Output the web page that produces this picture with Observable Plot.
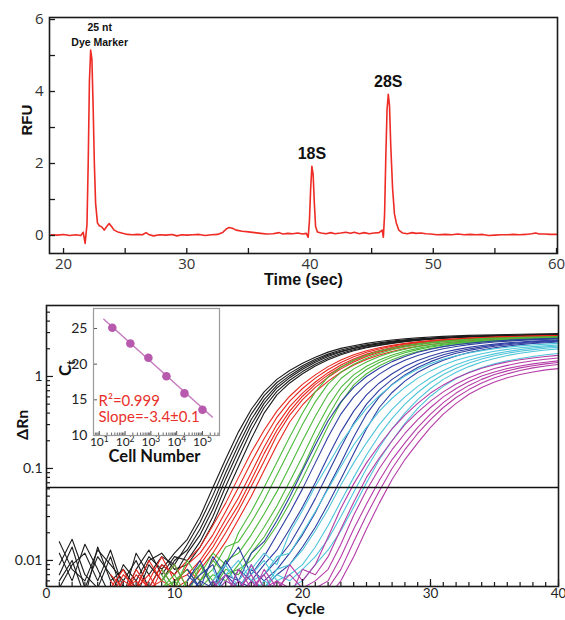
<!DOCTYPE html>
<html><head><meta charset="utf-8">
<script src="https://cdn.jsdelivr.net/npm/d3@7"></script>
<script src="https://cdn.jsdelivr.net/npm/@observablehq/plot@0.6"></script>
<style>
body{margin:0;background:#fff;}
#wrap{position:relative;width:565px;height:620px;overflow:hidden;}
#top{position:absolute;left:0;top:0;}
#bottom{position:absolute;left:0;top:292px;}
#inset{position:absolute;left:55px;top:300px;}
</style></head><body>
<div id="wrap"><div id="top"></div><div id="bottom"></div><div id="inset"></div></div>
<script>
// ---------- Top panel: electropherogram ----------
const rfuTime = [
 19.0,19.5,20.0,20.5,21.0,21.4,21.6,21.75,21.9,22.0,
 22.1,22.2,22.3,22.4,22.5,22.6,22.75,22.9,23.1,23.3,
 23.5,23.7,23.9,24.1,24.4,24.8,25.2,25.6,26.0,26.4,
 26.7,26.9,27.3,27.8,28.3,28.8,29.2,29.6,30.0,30.5,
 31.0,31.5,32.0,32.5,32.9,33.2,33.4,33.7,34.0,34.5,
 35.0,35.5,36.0,36.5,37.0,37.5,37.8,38.2,38.6,39.0,
 39.4,39.7,39.85,39.95,40.05,40.15,40.25,40.35,40.45,40.6,
 40.9,41.3,41.7,42.0,42.5,42.9,43.3,43.6,44.0,44.4,
 44.8,45.2,45.6,45.85,45.95,46.05,46.15,46.25,46.35,46.45,
 46.55,46.7,46.85,47.0,47.2,47.5,47.9,48.3,48.6,49.0,
 49.4,49.8,50.3,51.0,51.5,52.0,52.5,53.0,53.5,54.0,
 54.5,55.0,55.5,56.0,56.5,57.0,57.5,58.0,58.3,58.6,
 59.0,59.5,60.0];
const rfuValue = [
 0.02,0.01,0.03,0.0,0.02,0.0,0.09,-0.22,0.3,2.0,
 4.3,5.15,4.9,3.6,2.0,0.9,0.35,0.27,0.24,0.15,
 0.25,0.33,0.25,0.15,0.1,0.06,0.03,0.02,0.03,0.02,
 0.08,0.03,-0.01,0.02,0.01,0.03,-0.01,0.02,0.01,0.02,
 0.03,0.0,0.02,0.03,0.08,0.18,0.22,0.2,0.15,0.12,
 0.1,0.08,0.06,0.04,0.05,0.08,0.04,0.06,0.05,0.07,
 0.04,0.06,-0.05,0.4,1.3,1.92,1.7,0.9,0.25,0.1,
 0.07,0.05,0.08,0.05,0.07,0.09,0.06,0.09,0.05,0.08,
 0.05,0.07,0.08,0.15,-0.05,0.6,2.2,3.5,3.92,3.6,
 2.5,1.3,0.6,0.35,0.15,0.07,0.05,0.08,0.06,0.07,
 0.05,0.04,0.02,0.03,0.02,0.04,0.02,0.03,0.02,0.03,
 0.0,0.01,0.02,0.02,0.03,0.02,0.03,0.05,0.07,0.04,
 0.04,0.03,0.03];
const peakLabels = ["25 nt\nDye Marker", "18S", "28S"];
const peakTimes = [22.2, 40.15, 46.35];
const peakHeights = [5.15, 1.92, 3.92];
const timeTickValues = [20,25,30,35,40,45,50,55,60];
const timeTickLabels = [20,30,40,50,60];
const rfuTickValues = [0,1,2,3,4,5,6];
const rfuTickLabels = [0,2,4,6];

// ---------- Bottom panel: amplification curves ----------
const groupColors = ["#1c1c1c","#e8261d","#4db93b","#2e3ea2","#4ec5da","#b53ca7"];
const groupStart = [1,5,9,11,13,13];
const blackCurves = [
 [0.012,0.006,0.015,0.008,0.004,0.009,0.006,0.011,0.008,0.012,0.017,0.030,0.062,0.127,0.25,0.44,0.68,0.93,1.16,1.39,1.62,1.84,2.02,2.16,2.29,2.40,2.49,2.57,2.63,2.69,2.73,2.77,2.80,2.82,2.84,2.86,2.88,2.90,2.91,2.92],
 [0.007,0.014,0.005,0.011,0.007,0.004,0.012,0.007,0.011,0.009,0.015,0.026,0.051,0.107,0.21,0.39,0.62,0.86,1.08,1.31,1.54,1.75,1.94,2.09,2.21,2.32,2.42,2.50,2.56,2.62,2.67,2.71,2.74,2.76,2.78,2.80,2.82,2.84,2.85,2.86],
 [0.005,0.009,0.012,0.006,0.013,0.005,0.004,0.009,0.006,0.010,0.013,0.022,0.042,0.09,0.18,0.34,0.56,0.80,1.02,1.25,1.48,1.70,1.88,2.03,2.16,2.27,2.37,2.45,2.52,2.58,2.63,2.67,2.70,2.73,2.75,2.77,2.79,2.81,2.82,2.83],
 [0.016,0.008,0.006,0.013,0.009,0.006,0.010,0.005,0.009,0.007,0.012,0.019,0.036,0.077,0.155,0.30,0.51,0.75,0.97,1.20,1.43,1.65,1.85,2.01,2.15,2.27,2.37,2.46,2.53,2.59,2.64,2.68,2.72,2.75,2.77,2.79,2.81,2.83,2.84,2.85],
 [0.009,0.017,0.007,0.005,0.011,0.004,0.008,0.013,0.007,0.011,0.010,0.016,0.030,0.064,0.13,0.26,0.46,0.69,0.91,1.13,1.36,1.58,1.78,1.95,2.09,2.21,2.32,2.41,2.49,2.55,2.61,2.65,2.69,2.72,2.75,2.77,2.79,2.81,2.83,2.84],
 [0.006,0.010,0.004,0.014,0.006,0.008,0.005,0.010,0.012,0.008,0.009,0.014,0.025,0.052,0.105,0.21,0.40,0.63,0.85,1.07,1.30,1.52,1.72,1.90,2.05,2.18,2.29,2.39,2.47,2.54,2.60,2.65,2.69,2.72,2.75,2.77,2.79,2.81,2.83,2.84]
];
const redCurves = [
 [0.006,0.004,0.008,0.005,0.009,0.007,0.010,0.014,0.024,0.042,0.08,0.15,0.26,0.42,0.61,0.82,1.04,1.28,1.51,1.72,1.90,2.05,2.18,2.29,2.38,2.46,2.52,2.57,2.62,2.65,2.68,2.71,2.73,2.75,2.77,2.78],
 [0.004,0.007,0.005,0.010,0.006,0.005,0.009,0.012,0.019,0.034,0.062,0.117,0.21,0.36,0.54,0.74,0.96,1.19,1.42,1.64,1.83,1.99,2.13,2.25,2.35,2.43,2.50,2.55,2.60,2.64,2.67,2.70,2.72,2.74,2.76,2.77],
 [0.005,0.008,0.004,0.006,0.011,0.006,0.007,0.010,0.016,0.028,0.048,0.09,0.17,0.30,0.47,0.66,0.87,1.10,1.33,1.55,1.75,1.92,2.07,2.19,2.30,2.39,2.46,2.52,2.57,2.61,2.65,2.68,2.71,2.73,2.75,2.77],
 [0.007,0.005,0.006,0.004,0.008,0.005,0.006,0.009,0.014,0.024,0.040,0.075,0.145,0.26,0.42,0.61,0.82,1.04,1.27,1.49,1.70,1.88,2.03,2.16,2.27,2.36,2.44,2.50,2.55,2.59,2.63,2.66,2.69,2.71,2.73,2.75],
 [0.005,0.004,0.007,0.005,0.006,0.009,0.005,0.008,0.012,0.020,0.035,0.064,0.12,0.23,0.38,0.56,0.76,0.98,1.21,1.44,1.65,1.83,1.99,2.13,2.24,2.34,2.42,2.48,2.53,2.58,2.62,2.65,2.68,2.70,2.72,2.74],
 [0.004,0.006,0.005,0.007,0.004,0.006,0.008,0.006,0.010,0.016,0.028,0.050,0.095,0.18,0.32,0.49,0.68,0.89,1.11,1.33,1.53,1.71,1.87,2.01,2.13,2.23,2.31,2.38,2.44,2.49,2.53,2.56,2.59,2.62,2.64,2.66]
];
const greenCurves = [
 [0.006,0.009,0.005,0.007,0.012,0.009,0.020,0.034,0.062,0.117,0.22,0.40,0.68,0.99,1.26,1.50,1.71,1.89,2.04,2.17,2.27,2.36,2.43,2.49,2.54,2.58,2.61,2.64,2.66,2.68,2.70,2.71],
 [0.008,0.005,0.010,0.006,0.008,0.014,0.016,0.026,0.045,0.085,0.16,0.30,0.53,0.83,1.11,1.36,1.58,1.78,1.95,2.09,2.20,2.30,2.38,2.44,2.49,2.54,2.57,2.60,2.62,2.64,2.66,2.67],
 [0.005,0.007,0.004,0.009,0.006,0.010,0.012,0.019,0.032,0.056,0.105,0.20,0.37,0.64,0.95,1.21,1.44,1.65,1.83,1.98,2.11,2.21,2.30,2.37,2.43,2.47,2.51,2.54,2.57,2.59,2.61,2.62],
 [0.004,0.006,0.008,0.005,0.007,0.006,0.009,0.014,0.023,0.039,0.072,0.135,0.26,0.47,0.76,1.04,1.29,1.51,1.71,1.88,2.02,2.14,2.24,2.32,2.38,2.43,2.48,2.51,2.54,2.57,2.59,2.61],
 [0.007,0.004,0.006,0.009,0.005,0.008,0.007,0.012,0.018,0.031,0.055,0.10,0.20,0.37,0.64,0.93,1.19,1.42,1.63,1.81,1.96,2.09,2.19,2.28,2.35,2.41,2.45,2.49,2.52,2.55,2.57,2.59],
 [0.005,0.006,0.004,0.006,0.010,0.007,0.008,0.010,0.015,0.024,0.042,0.078,0.15,0.29,0.52,0.81,1.07,1.31,1.52,1.71,1.87,2.01,2.12,2.22,2.30,2.36,2.41,2.45,2.49,2.52,2.54,2.56]
];
const blueCurves = [
 [0.008,0.005,0.011,0.007,0.006,0.012,0.016,0.027,0.049,0.095,0.18,0.33,0.53,0.76,1.00,1.23,1.45,1.65,1.83,1.98,2.11,2.21,2.30,2.37,2.43,2.48,2.52,2.55,2.58,2.60],
 [0.006,0.010,0.005,0.009,0.014,0.007,0.011,0.019,0.033,0.060,0.115,0.22,0.39,0.60,0.83,1.06,1.29,1.50,1.69,1.86,2.00,2.12,2.22,2.30,2.37,2.42,2.47,2.51,2.54,2.57],
 [0.005,0.007,0.009,0.004,0.008,0.006,0.009,0.013,0.022,0.038,0.070,0.135,0.25,0.42,0.63,0.85,1.07,1.29,1.49,1.67,1.83,1.96,2.07,2.17,2.25,2.32,2.37,2.42,2.46,2.49],
 [0.004,0.006,0.005,0.010,0.006,0.005,0.007,0.010,0.015,0.026,0.047,0.089,0.17,0.31,0.50,0.71,0.93,1.15,1.36,1.55,1.72,1.87,1.99,2.10,2.19,2.27,2.33,2.38,2.42,2.46],
 [0.007,0.005,0.004,0.007,0.005,0.008,0.006,0.008,0.012,0.019,0.033,0.062,0.115,0.22,0.39,0.60,0.82,1.04,1.25,1.45,1.63,1.79,1.92,2.03,2.13,2.21,2.28,2.33,2.38,2.42],
 [0.005,0.004,0.006,0.005,0.004,0.006,0.005,0.007,0.009,0.014,0.023,0.041,0.077,0.145,0.27,0.46,0.67,0.89,1.11,1.31,1.50,1.67,1.82,1.94,2.05,2.14,2.22,2.28,2.33,2.37]
];
const cyanCurves = [
 [0.006,0.009,0.005,0.008,0.012,0.009,0.020,0.035,0.064,0.11,0.19,0.30,0.45,0.62,0.81,1.01,1.20,1.38,1.54,1.68,1.80,1.91,2.00,2.08,2.15,2.20,2.25,2.29],
 [0.005,0.007,0.010,0.006,0.007,0.011,0.012,0.020,0.034,0.060,0.105,0.18,0.28,0.42,0.58,0.76,0.96,1.15,1.33,1.50,1.64,1.77,1.88,1.97,2.05,2.11,2.16,2.20],
 [0.008,0.004,0.006,0.009,0.005,0.008,0.009,0.013,0.021,0.036,0.066,0.115,0.19,0.30,0.44,0.60,0.78,0.97,1.16,1.34,1.50,1.64,1.76,1.87,1.96,2.04,2.10,2.15],
 [0.004,0.006,0.005,0.007,0.010,0.006,0.007,0.009,0.014,0.024,0.044,0.080,0.14,0.23,0.35,0.50,0.67,0.86,1.05,1.23,1.40,1.55,1.68,1.79,1.88,1.96,2.03,2.08],
 [0.006,0.005,0.004,0.006,0.005,0.007,0.006,0.008,0.011,0.017,0.030,0.055,0.10,0.17,0.27,0.40,0.56,0.74,0.93,1.11,1.28,1.44,1.57,1.69,1.79,1.87,1.94,2.00],
 [0.005,0.004,0.005,0.004,0.006,0.005,0.005,0.006,0.009,0.013,0.021,0.038,0.070,0.125,0.20,0.31,0.45,0.61,0.78,0.95,1.11,1.25,1.37,1.48,1.57,1.65,1.72,1.78]
];
const magentaCurves = [
 [0.006,0.004,0.008,0.005,0.007,0.004,0.009,0.006,0.009,0.018,0.037,0.068,0.115,0.18,0.27,0.38,0.51,0.66,0.81,0.96,1.10,1.23,1.34,1.44,1.52,1.59,1.65,1.70],
 [0.005,0.007,0.004,0.009,0.005,0.006,0.004,0.008,0.007,0.011,0.022,0.043,0.080,0.13,0.20,0.30,0.41,0.54,0.68,0.83,0.97,1.10,1.22,1.32,1.41,1.48,1.54,1.59],
 [0.004,0.006,0.005,0.004,0.008,0.005,0.007,0.005,0.006,0.008,0.015,0.031,0.058,0.10,0.16,0.24,0.34,0.46,0.60,0.74,0.88,1.01,1.12,1.22,1.30,1.37,1.43,1.48],
 [0.006,0.004,0.005,0.007,0.004,0.006,0.005,0.004,0.005,0.006,0.011,0.022,0.041,0.074,0.125,0.19,0.28,0.39,0.52,0.66,0.80,0.93,1.05,1.15,1.24,1.31,1.37,1.42],
 [0.004,0.005,0.004,0.006,0.004,0.005,0.004,0.005,0.004,0.005,0.008,0.016,0.031,0.057,0.10,0.16,0.24,0.34,0.46,0.59,0.72,0.85,0.97,1.07,1.16,1.24,1.30,1.35],
 [0.004,0.004,0.006,0.004,0.005,0.004,0.004,0.004,0.004,0.004,0.006,0.011,0.022,0.042,0.076,0.125,0.19,0.28,0.39,0.51,0.64,0.76,0.87,0.97,1.05,1.12,1.18,1.22]
];
const threshold = 0.062;
const cycleTickLabels = [0,10,20,30,40];
const rnTickLabels = [0.01, 0.1, 1];

// ---------- Inset: standard curve ----------
const cellNumber = [32, 160, 800, 4000, 20000, 100000];
const ctValue = [25.1, 22.9, 20.9, 18.3, 15.9, 13.6];
const fitCells = [15, 240000];
const fitCt = [26.3, 12.6];
const cellTickLabels = [10, 100, 1000, 10000, 100000];
const ctTickLabels = [10, 15, 20, 25];

// ---------- build top ----------
const rfuRows = rfuTime.map((t, i) => ({t, v: rfuValue[i]}));
const peakRows = peakLabels.map((label, i) => ({label, t: peakTimes[i], v: peakHeights[i]}));
const boldFont = "'Liberation Sans', Arial, sans-serif";

const topPlot = Plot.plot({
  width: 565, height: 292,
  marginLeft: 49, marginRight: 8, marginTop: 17, marginBottom: 39,
  style: {fontFamily: "'Open Sans', sans-serif", fontSize: "15px", color: "#1a1a1a", background: "white", overflow: "visible"},
  x: {domain: [18.86, 60.08], label: null},
  y: {domain: [-0.5, 6.056], label: null},
  marks: [
    Plot.line(rfuRows, {x: "t", y: "v", stroke: "#ee2b24", strokeWidth: 1.6, clip: true}),
    Plot.axisX(timeTickValues, {anchor: "bottom", tickSize: -5, fill: "none", label: null, strokeWidth: 1.3}),
    Plot.axisX(timeTickLabels, {anchor: "bottom", tickSize: 0, tickPadding: 5, stroke: "none", fill: "#333", label: null}),
    Plot.axisY(rfuTickValues, {anchor: "left", tickSize: -6, fill: "none", label: null, strokeWidth: 1.3}),
    Plot.axisY(rfuTickLabels, {anchor: "left", tickSize: 0, tickPadding: 6, stroke: "none", fill: "#333", label: null}),
    Plot.frame({stroke: "#1a1a1a", strokeWidth: 1.6}),
    Plot.text(["RFU"], {frameAnchor: "left", rotate: -90, dx: -22, fontWeight: "bold", fontSize: 15, fontFamily: boldFont, fill: "#111"}),
    Plot.text(["Time (sec)"], {frameAnchor: "bottom", dy: 31, fontWeight: "bold", fontSize: 16, fontFamily: boldFont, fill: "#111"}),
    Plot.text(peakRows.slice(0, 1), {x: "t", y: "v", text: "label", dx: 9, dy: -16, fontWeight: "bold", fontSize: 10.5, lineHeight: 1.4, fontFamily: boldFont, fill: "#111"}),
    Plot.text(peakRows.slice(1), {x: "t", y: "v", text: "label", dy: -13, fontWeight: "bold", fontSize: 16, fontFamily: boldFont, fill: "#111"})
  ]
});
document.getElementById("top").appendChild(topPlot);

// ---------- build bottom ----------
const groups = [blackCurves, redCurves, greenCurves, blueCurves, cyanCurves, magentaCurves];
const curveRows = [];
groups.forEach((curves, g) => curves.forEach((vals, k) => vals.forEach((v, i) =>
  curveRows.push({g, id: g * 100 + k, cycle: groupStart[g] + i, value: v}))));

const cycleMinor = d3.range(0, 41);
const rnMinor = [];
for (const e of [0.001, 0.01, 0.1, 1]) for (let k = 2; k <= 9; k++) {
  const v = +(k * e).toPrecision(3);
  if (v > 0.0052 && v < 5.9) rnMinor.push(v);
}
const lato = "Lato, sans-serif";

const bottomPlot = Plot.plot({
  width: 565, height: 328,
  marginLeft: 46, marginRight: 7, marginTop: 13, marginBottom: 34,
  style: {fontFamily: lato, fontSize: "14px", color: "#1a1a1a", background: "white", overflow: "visible"},
  x: {domain: [0, 40], label: null},
  y: {type: "log", domain: [0.00521, 5.91], label: null},
  marks: [
    ...groups.map((_, g) => Plot.line(curveRows.filter(r => r.g === g),
      {x: "cycle", y: "value", z: "id", stroke: groupColors[g], strokeWidth: 1.1, clip: true})),
    Plot.ruleY([threshold], {stroke: "#111", strokeWidth: 1.6}),
    Plot.axisX(cycleMinor, {anchor: "bottom", tickSize: -4, fill: "none", label: null, strokeWidth: 1.2}),
    Plot.axisX(cycleTickLabels, {anchor: "bottom", tickSize: -7, fill: "none", label: null, strokeWidth: 1.2}),
    Plot.axisX(cycleTickLabels, {anchor: "bottom", tickSize: 0, tickPadding: 2, stroke: "none", fill: "#222", label: null, fontSize: 13.5}),
    Plot.axisY(rnMinor, {anchor: "left", tickSize: -4, fill: "none", label: null, strokeWidth: 1.2}),
    Plot.axisY(rnTickLabels, {anchor: "left", tickSize: -7, fill: "none", label: null, strokeWidth: 1.2}),
    Plot.axisY(rnTickLabels, {anchor: "left", tickSize: 0, tickPadding: 4, stroke: "none", fill: "#222", label: null, tickFormat: d => String(d)}),
    Plot.frame({stroke: "#1a1a1a", strokeWidth: 1.6}),
    Plot.text(["ΔRn"], {frameAnchor: "left", rotate: -90, dx: -24, dy: -6, fontWeight: "bold", fontSize: 16, fill: "#111"}),
    Plot.text(["Cycle"], {frameAnchor: "bottom", dy: 27, dx: 3, fontWeight: "bold", fontSize: 16, fill: "#111"})
  ]
});
document.getElementById("bottom").appendChild(bottomPlot);

// ---------- build inset ----------
const ctRows = cellNumber.map((c, i) => ({cells: c, ct: ctValue[i]}));
const fitRows = fitCells.map((c, i) => ({cells: c, ct: fitCt[i]}));
const cellMinor = [];
for (const e of [1, 10, 100, 1000, 10000, 100000]) for (let k = 2; k <= 9; k++) {
  const v = k * e;
  if (v > 6 && v < 450000) cellMinor.push(v);
}
const insetPlot = Plot.plot({
  width: 170, height: 170,
  marginLeft: 38, marginRight: 6, marginTop: 8, marginBottom: 35,
  style: {fontFamily: lato, fontSize: "14px", color: "#222", background: "transparent", overflow: "visible"},
  x: {type: "log", domain: [5.96, 457000], label: null},
  y: {domain: [10, 27.8], label: null},
  marks: [
    Plot.frame({fill: "white", stroke: "none"}),
    Plot.line(fitRows, {x: "cells", y: "ct", stroke: "#c77cc0", strokeWidth: 1.5}),
    Plot.dot(ctRows, {x: "cells", y: "ct", r: 4.3, fill: "#b75aad", stroke: "none"}),
    Plot.axisX(cellMinor, {anchor: "bottom", tickSize: -2.5, fill: "none", label: null, stroke: "#666"}),
    Plot.axisX(cellTickLabels, {anchor: "bottom", tickSize: -4, fill: "none", label: null, stroke: "#555"}),
    Plot.axisX(cellTickLabels, {anchor: "bottom", tickSize: 0, tickPadding: 2, stroke: "none", fill: "#222", label: null, fontSize: 12,
      tickFormat: d => "10^" + Math.round(Math.log10(d))}),
    Plot.axisY(ctTickLabels, {anchor: "left", tickSize: -4, fill: "none", label: null, stroke: "#555"}),
    Plot.axisY(ctTickLabels, {anchor: "left", tickSize: 0, tickPadding: 6, stroke: "none", fill: "#222", label: null}),
    Plot.frame({stroke: "#9a9a9a", strokeWidth: 1.2}),
    Plot.text(["Ct"], {frameAnchor: "left", rotate: -90, dx: -28, dy: 4, fontWeight: "bold", fontSize: 17, fill: "#111"}),
    Plot.text(["Cell Number"], {frameAnchor: "bottom", dy: 26, dx: -2, fontWeight: "bold", fontSize: 16.5, fill: "#111"}),
    Plot.text(["R²=0.999"], {frameAnchor: "bottom-left", textAnchor: "start", dx: 5, dy: -30, fontSize: 15, fill: "#e8312a"}),
    Plot.text(["Slope=-3.4±0.1"], {frameAnchor: "bottom-left", textAnchor: "start", dx: 5, dy: -14, fontSize: 15, fill: "#e8312a"})
  ]
});
d3.select(insetPlot).selectAll("text").each(function() {
  const s = this.textContent;
  const m = /^10\^(\d)$/.exec(s);
  if (m) {
    this.textContent = "10";
    d3.select(this).append("tspan").attr("dy", "-0.45em").attr("font-size", "8.5px").text(m[1]);
  } else if (s === "Ct") {
    this.textContent = "C";
    d3.select(this).append("tspan").attr("dy", "0.3em").attr("font-size", "12px").text("t");
  }
});
document.getElementById("inset").appendChild(insetPlot);
</script>
</body></html>
